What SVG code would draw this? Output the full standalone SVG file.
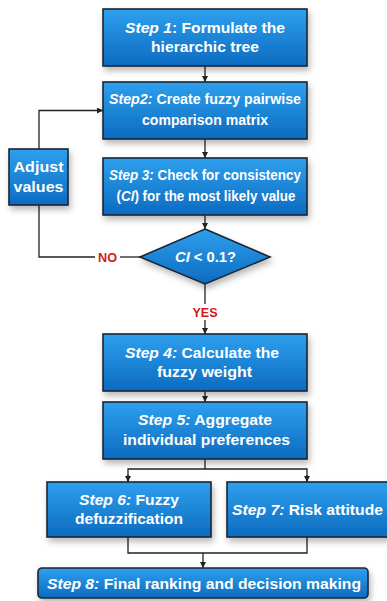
<svg xmlns="http://www.w3.org/2000/svg" width="387" height="601" viewBox="0 0 387 601">
<defs>
<linearGradient id="g" x1="0" y1="0" x2="0" y2="1">
<stop offset="0" stop-color="#2ea0ee"/>
<stop offset="1" stop-color="#0c6bc0"/>
</linearGradient>
<filter id="sh" x="-20%" y="-20%" width="140%" height="160%">
<feDropShadow dx="2" dy="4" stdDeviation="3" flood-color="#000" flood-opacity="0.28"/>
</filter>
<marker id="ar" viewBox="0 0 10 10" refX="10" refY="5" markerWidth="6" markerHeight="6" orient="auto" markerUnits="userSpaceOnUse">
<path d="M0,0 L10,5 L0,10 z" fill="#222"/>
</marker>
<style>
.box{fill:url(#g);stroke:#1c2633;stroke-width:1.6;filter:url(#sh)}
.t{font-family:"Liberation Sans",Arial,sans-serif;font-weight:bold;font-size:15px;fill:#fff;text-anchor:middle}
.s{font-size:14px}
.i{font-style:italic}
.c{fill:none;stroke:#222;stroke-width:1.3}
.lbl{font-family:"Liberation Sans",Arial,sans-serif;font-weight:bold;font-size:12px;fill:#d11a1a;text-anchor:middle}
</style>
</defs>
<rect width="387" height="601" fill="#fff"/>
<g id="connectors">
<path class="c" d="M205,66 V82" marker-end="url(#ar)"/>
<path class="c" d="M205,139 V158" marker-end="url(#ar)"/>
<path class="c" d="M205,215 V229" marker-end="url(#ar)"/>
<path class="c" d="M39,149 V110.5 H103" marker-end="url(#ar)"/>
<path class="c" d="M39,205 V257 H95"/>
<path class="c" d="M120,257 H140"/>
<path class="c" d="M205,284 V304"/>
<path class="c" d="M205,320 V334" marker-end="url(#ar)"/>
<path class="c" d="M205,391 V402" marker-end="url(#ar)"/>
<path class="c" d="M205,459 V469"/>
<path class="c" d="M128,482 V469 H307 V482"/>
<path class="c" d="M128,475 V482" marker-end="url(#ar)"/>
<path class="c" d="M307,475 V482" marker-end="url(#ar)"/>
<path class="c" d="M128,537 V553 H307 V537"/>
<path class="c" d="M203,553 V568" marker-end="url(#ar)"/>
<text class="lbl" x="107.5" y="262" textLength="19" lengthAdjust="spacingAndGlyphs">NO</text>
<text class="lbl" x="205" y="317" textLength="25" lengthAdjust="spacingAndGlyphs">YES</text>
</g>
<g id="step1">
<rect class="box" x="103" y="9" width="204" height="57"/>
<text class="t" x="205" y="33" textLength="160" lengthAdjust="spacingAndGlyphs"><tspan class="i">Step 1</tspan>: Formulate the</text>
<text class="t" x="205" y="52" textLength="108" lengthAdjust="spacingAndGlyphs">hierarchic tree</text>
</g>
<g id="step2">
<rect class="box" x="103" y="82" width="204" height="57"/>
<text class="t" x="205" y="104" textLength="192" lengthAdjust="spacingAndGlyphs"><tspan class="i">Step2:</tspan> Create fuzzy pairwise</text>
<text class="t" x="205" y="125" textLength="126" lengthAdjust="spacingAndGlyphs">comparison matrix</text>
</g>
<g id="adjust">
<rect class="box" x="9" y="149" width="59" height="56"/>
<text class="t" x="38.5" y="172" textLength="50" lengthAdjust="spacingAndGlyphs">Adjust</text>
<text class="t" x="38.5" y="192" textLength="50" lengthAdjust="spacingAndGlyphs">values</text>
</g>
<g id="step3">
<rect class="box" x="103" y="158" width="204" height="57"/>
<text class="t s" x="205" y="180" textLength="192" lengthAdjust="spacingAndGlyphs"><tspan class="i">Step 3:</tspan> Check for consistency</text>
<text class="t s" x="206" y="201" textLength="179" lengthAdjust="spacingAndGlyphs">(<tspan class="i">CI</tspan>) for the most likely value</text>
</g>
<g id="decision">
<polygon class="box" points="205,229 270,257 205,284 140,257"/>
<text class="t" x="205.5" y="262" textLength="61" lengthAdjust="spacingAndGlyphs"><tspan class="i">CI</tspan> &lt; 0.1?</text>
</g>
<g id="step4">
<rect class="box" x="103" y="334" width="204" height="57"/>
<text class="t" x="202" y="358" textLength="154" lengthAdjust="spacingAndGlyphs"><tspan class="i">Step 4:</tspan> Calculate the</text>
<text class="t" x="204.5" y="377" textLength="95" lengthAdjust="spacingAndGlyphs">fuzzy weight</text>
</g>
<g id="step5">
<rect class="box" x="103" y="402" width="204" height="57"/>
<text class="t" x="205" y="425" textLength="134" lengthAdjust="spacingAndGlyphs"><tspan class="i">Step 5:</tspan> Aggregate</text>
<text class="t" x="206.5" y="445" textLength="167" lengthAdjust="spacingAndGlyphs">individual preferences</text>
</g>
<g id="step6">
<rect class="box" x="47" y="482" width="164" height="55"/>
<text class="t" x="129" y="505" textLength="100" lengthAdjust="spacingAndGlyphs"><tspan class="i">Step 6:</tspan> Fuzzy</text>
<text class="t" x="129" y="524" textLength="108" lengthAdjust="spacingAndGlyphs">defuzzification</text>
</g>
<g id="step7">
<rect class="box" x="227" y="482" width="170" height="55"/>
<text class="t" x="307.5" y="515" textLength="151" lengthAdjust="spacingAndGlyphs"><tspan class="i">Step 7:</tspan> Risk attitude</text>
</g>
<g id="step8">
<rect class="box" x="38" y="568" width="330" height="30" rx="4"/>
<text class="t" x="204" y="589" textLength="314" lengthAdjust="spacingAndGlyphs"><tspan class="i">Step 8:</tspan> Final ranking and decision making</text>
</g>
</svg>
